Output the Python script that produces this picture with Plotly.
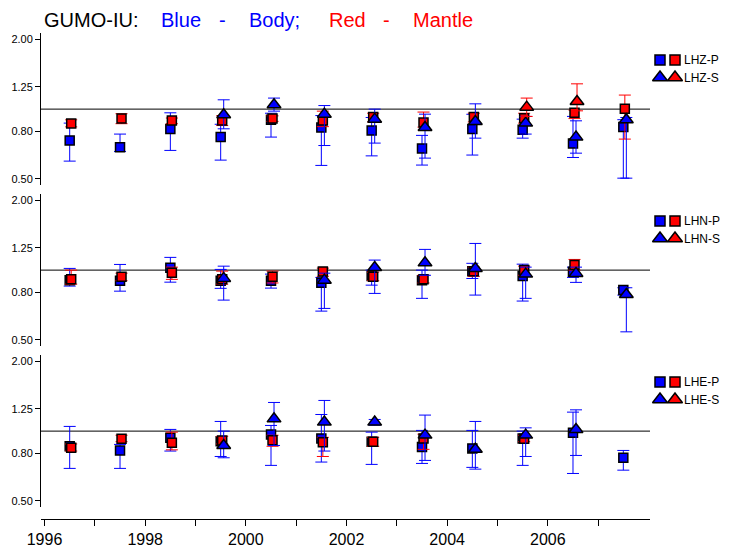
import plotly.graph_objects as go

W, H = 733, 551          # reference picture size
OFF = 8                  # page body offset of the plot div
FIG_W, FIG_H = W - OFF, H - OFF

YEARS = list(range(1996, 2008))
XTICK_YEARS = list(range(1996, 2008))
XTICK_TEXT = [str(y) if y % 2 == 0 else "" for y in XTICK_YEARS]
YTICK_VALS = [0.5, 0.8, 1.25, 2.0]
YTICK_TEXT = ["0.50", "0.80", "1.25", "2.00"]
REF_VALUE = 1.0
PANEL_NAMES = ["LHZ", "LHN", "LHE"]

# ---- Panel 1: LHZ ----
Z_BP = [0.732, 0.685, 0.820, 0.757, 0.900, 0.833, 0.808, 0.676, 0.820, 0.814, 0.710, 0.836]
Z_BP_LO = [0.596, 0.656, 0.663, 0.602, 0.757, 0.571, 0.628, 0.573, 0.633, 0.749, 0.618, 0.503]
Z_BP_HI = [0.870, 0.780, 0.964, 0.860, 0.960, 0.938, 0.920, 0.770, 0.950, 0.905, 0.930, 0.900]
Z_MP = [0.867, 0.911, 0.893, 0.893, 0.911, 0.893, 0.924, 0.875, 0.924, 0.914, 0.964, 1.003]
Z_MP_LO = [0.838, 0.865, 0.865, 0.849, 0.885, 0.840, 0.880, 0.836, 0.880, 0.870, 0.910, 0.742]
Z_MP_HI = [0.899, 0.955, 0.915, 0.936, 0.935, 0.980, 0.960, 0.971, 0.960, 0.960, 0.990, 1.150]
Z_BS = [None, None, None, 0.945, 1.044, 0.951, 0.905, 0.833, 0.884, 0.870, 0.757, 0.899]
Z_BS_LO = [None, None, None, 0.822, 0.980, 0.696, 0.713, 0.614, 0.749, 0.780, 0.645, 0.503]
Z_BS_HI = [None, None, None, 1.097, 1.116, 1.036, 1.000, 0.951, 1.054, 0.930, 0.890, 0.920]
Z_MS = [None, None, None, None, None, None, None, None, None, 1.020, 1.079, None]
Z_MS_LO = [None, None, None, None, None, None, None, None, None, 0.930, 0.983, None]
Z_MS_HI = [None, None, None, None, None, None, None, None, None, 1.116, 1.286, None]

# ---- Panel 2: LHN ----
N_BP = [0.905, 0.900, 1.023, 0.899, 0.899, 0.881, 0.942, 0.905, 0.990, 0.942, 0.983, 0.820]
N_BP_LO = [0.853, 0.811, 0.887, 0.834, 0.836, 0.665, 0.861, 0.755, 0.920, 0.735, 0.930, 0.780]
N_BP_HI = [1.017, 1.058, 1.135, 1.007, 0.961, 0.930, 1.000, 1.000, 1.070, 1.061, 1.030, 0.839]
N_MP = [0.912, 0.936, 0.973, 0.912, 0.936, 0.987, 0.936, 0.912, 0.990, 1.000, 1.051, None]
N_MP_LO = [0.870, 0.900, 0.912, 0.870, 0.880, 0.940, 0.900, 0.880, 0.940, 0.950, 1.000, None]
N_MP_HI = [1.000, 0.970, 1.030, 0.990, 0.990, 1.020, 0.980, 0.950, 1.030, 1.040, 1.112, None]
N_BS = [None, None, None, 0.921, None, 0.905, 1.027, 1.075, 1.017, 0.961, 0.968, 0.785]
N_BS_LO = [None, None, None, 0.742, None, 0.683, 0.793, 0.950, 0.780, 0.755, 0.885, 0.541]
N_BS_HI = [None, None, None, 1.040, None, 0.970, 1.105, 1.229, 1.304, 1.030, 1.030, 0.839]
N_MS = [None] * 12
N_MS_LO = [None] * 12
N_MS_HI = [None] * 12

# ---- Panel 3: LHE ----
E_BP = [0.861, 0.825, 0.936, 0.905, 0.967, 0.930, 0.899, 0.853, 0.842, 0.930, 0.983, 0.767]
E_BP_LO = [0.690, 0.690, 0.820, 0.777, 0.711, 0.735, 0.718, 0.725, 0.697, 0.711, 0.656, 0.678]
E_BP_HI = [1.048, 0.876, 1.017, 1.101, 1.058, 1.180, 0.990, 1.007, 1.007, 1.000, 1.208, 0.825]
E_MP = [0.847, 0.927, 0.890, 0.910, 0.914, 0.896, 0.899, 0.930, None, 0.927, None, None]
E_MP_LO = [0.820, 0.900, 0.830, 0.880, 0.860, 0.777, 0.860, 0.834, None, 0.900, None, None]
E_MP_HI = [0.880, 0.960, 0.990, 0.950, 0.960, 0.940, 0.940, 0.970, None, 0.960, None, None]
E_BS = [None, None, None, 0.867, 1.130, 1.094, 1.094, 0.961, 0.835, 0.961, 1.017, None]
E_BS_LO = [None, None, None, 0.767, 0.867, 0.820, 1.060, 0.747, 0.685, 0.777, 0.785, None]
E_BS_HI = [None, None, None, 1.000, 1.330, 1.357, 1.123, 1.173, 1.101, 1.033, 1.236, None]
E_MS = [None] * 12
E_MS_LO = [None] * 12
E_MS_HI = [None] * 12

# ---------------- styling / layout ----------------
BLUE = "#0000ff"
RED = "#ff0000"
FONT = "Liberation Sans"
X_RANGE = [1995.93, 2008.03]
Y_LOG_RANGE = [-0.328, 0.329]
PLOT_LEFT, PLOT_RIGHT = 41, 650
PANEL_TOPS = [33, 194, 355]
PANEL_H = 152
XAXIS_Y = 519

def px_to_fx(px):
    return (px - OFF) / FIG_W

def px_to_fy(py):
    return 1 - (py - OFF) / FIG_H

def err_up(v, hi):
    return [None if a is None else b - a for a, b in zip(v, hi)]

def err_dn(v, lo):
    return [None if a is None else a - b for a, b in zip(v, lo)]

panel_series = [
    [(Z_BP, Z_BP_LO, Z_BP_HI), (Z_MP, Z_MP_LO, Z_MP_HI), (Z_BS, Z_BS_LO, Z_BS_HI), (Z_MS, Z_MS_LO, Z_MS_HI)],
    [(N_BP, N_BP_LO, N_BP_HI), (N_MP, N_MP_LO, N_MP_HI), (N_BS, N_BS_LO, N_BS_HI), (N_MS, N_MS_LO, N_MS_HI)],
    [(E_BP, E_BP_LO, E_BP_HI), (E_MP, E_MP_LO, E_MP_HI), (E_BS, E_BS_LO, E_BS_HI), (E_MS, E_MS_LO, E_MS_HI)],
]
series_style = [
    dict(color=BLUE, symbol="square", size=9, dx=0.50),
    dict(color=RED, symbol="square", size=9, dx=0.53),
    dict(color=BLUE, symbol="triangle-up", size=12, dx=0.56),
    dict(color=RED, symbol="triangle-up", size=12, dx=0.58),
]

fig = go.Figure()

for i, series in enumerate(panel_series):
    xa = "x" if i == 0 else f"x{i+1}"
    ya = "y" if i == 0 else f"y{i+1}"
    fig.add_trace(go.Scatter(x=X_RANGE, y=[REF_VALUE, REF_VALUE], mode="lines",
                             line=dict(color="black", width=1), xaxis=xa, yaxis=ya,
                             showlegend=False, hoverinfo="skip"))
    for (vals, lo, hi), st in zip(series, series_style):
        fig.add_trace(go.Scatter(
            x=[y + st["dx"] for y in YEARS], y=vals, mode="markers",
            marker=dict(symbol=st["symbol"], size=st["size"], color=st["color"], opacity=1,
                        line=dict(color="black", width=1.5)),
            error_y=dict(type="data", symmetric=False, array=err_up(vals, hi),
                         arrayminus=err_dn(vals, lo), color=st["color"],
                         thickness=1, width=6),
            xaxis=xa, yaxis=ya, showlegend=False, cliponaxis=False))

# custom legends (two markers per entry) on a pixel-based helper axis
leg_x, leg_y, leg_c, leg_s = [], [], [], []
annotations = []
for i, name in enumerate(PANEL_NAMES):
    top = PANEL_TOPS[i]
    for row, (sym, label) in enumerate([("square", "-P"), ("triangle-up", "-S")]):
        yy = top + 27 + row * 17.5
        for xx, col in [(660, BLUE), (675, RED)]:
            leg_x.append(xx); leg_y.append(yy); leg_c.append(col); leg_s.append(sym)
        annotations.append(dict(x=682, y=yy, xref="x4", yref="y4", text=name + label,
                                showarrow=False, xanchor="left", yanchor="middle",
                                font=dict(family=FONT, size=12, color="black")))
fig.add_trace(go.Scatter(x=leg_x, y=leg_y, mode="markers",
                         marker=dict(symbol=leg_s, size=[10 if s == "square" else 13 for s in leg_s],
                                     color=leg_c, opacity=1, line=dict(color="black", width=1.5)),
                         xaxis="x4", yaxis="y4", showlegend=False, hoverinfo="skip"))

# title pieces
title_parts = [("GUMO-IU:", 43, "black"), ("Blue", 160, BLUE), ("-", 218, BLUE), ("Body;", 248, BLUE),
               ("Red", 328, RED), ("-", 382, RED), ("Mantle", 412, RED)]
for txt, xpx, col in title_parts:
    annotations.append(dict(x=px_to_fx(xpx), y=1.0, xref="paper", yref="paper", text=txt,
                            showarrow=False, xanchor="left", yanchor="top", borderpad=0,
                            font=dict(family=FONT, size=20, color=col)))

xdom = [px_to_fx(PLOT_LEFT), px_to_fx(PLOT_RIGHT)]
layout = dict(
    width=FIG_W, height=FIG_H, margin=dict(l=0, r=0, t=0, b=0, pad=0, autoexpand=False),
    paper_bgcolor="white", plot_bgcolor="white",
    font=dict(family=FONT, color="black"),
    showlegend=False, annotations=annotations,
)
for i in range(3):
    sfx = "" if i == 0 else str(i + 1)
    top = PANEL_TOPS[i]
    ydom = [px_to_fy(top + PANEL_H), px_to_fy(top)]
    xa = dict(domain=xdom, range=X_RANGE, showgrid=False, zeroline=False, anchor="y" + sfx,
              automargin=False)
    if i < 2:
        xa.update(visible=False)
    else:
        xa.update(anchor="free", position=px_to_fy(XAXIS_Y), showline=True, linecolor="black",
                  linewidth=1, ticks="outside", ticklen=6, tickcolor="black",
                  tickvals=XTICK_YEARS, ticktext=XTICK_TEXT,
                  tickfont=dict(family=FONT, size=16, color="black"))
    layout["xaxis" + sfx] = xa
    layout["yaxis" + sfx] = dict(domain=ydom, type="log", range=Y_LOG_RANGE, anchor="x" + sfx,
                                 automargin=False,
                                 showgrid=False, zeroline=False, showline=True, linecolor="black",
                                 linewidth=1, ticks="outside", ticklen=5, tickcolor="black",
                                 tickvals=YTICK_VALS, ticktext=YTICK_TEXT,
                                 tickfont=dict(family=FONT, size=11, color="black"))
layout["xaxis4"] = dict(domain=[px_to_fx(PLOT_RIGHT), 1], range=[PLOT_RIGHT, W], visible=False,
                        anchor="y4", automargin=False)
layout["yaxis4"] = dict(domain=[0, 1], range=[H, OFF], visible=False, anchor="x4", automargin=False)

fig.update_layout(**layout)
fig.write_html("out.html")
